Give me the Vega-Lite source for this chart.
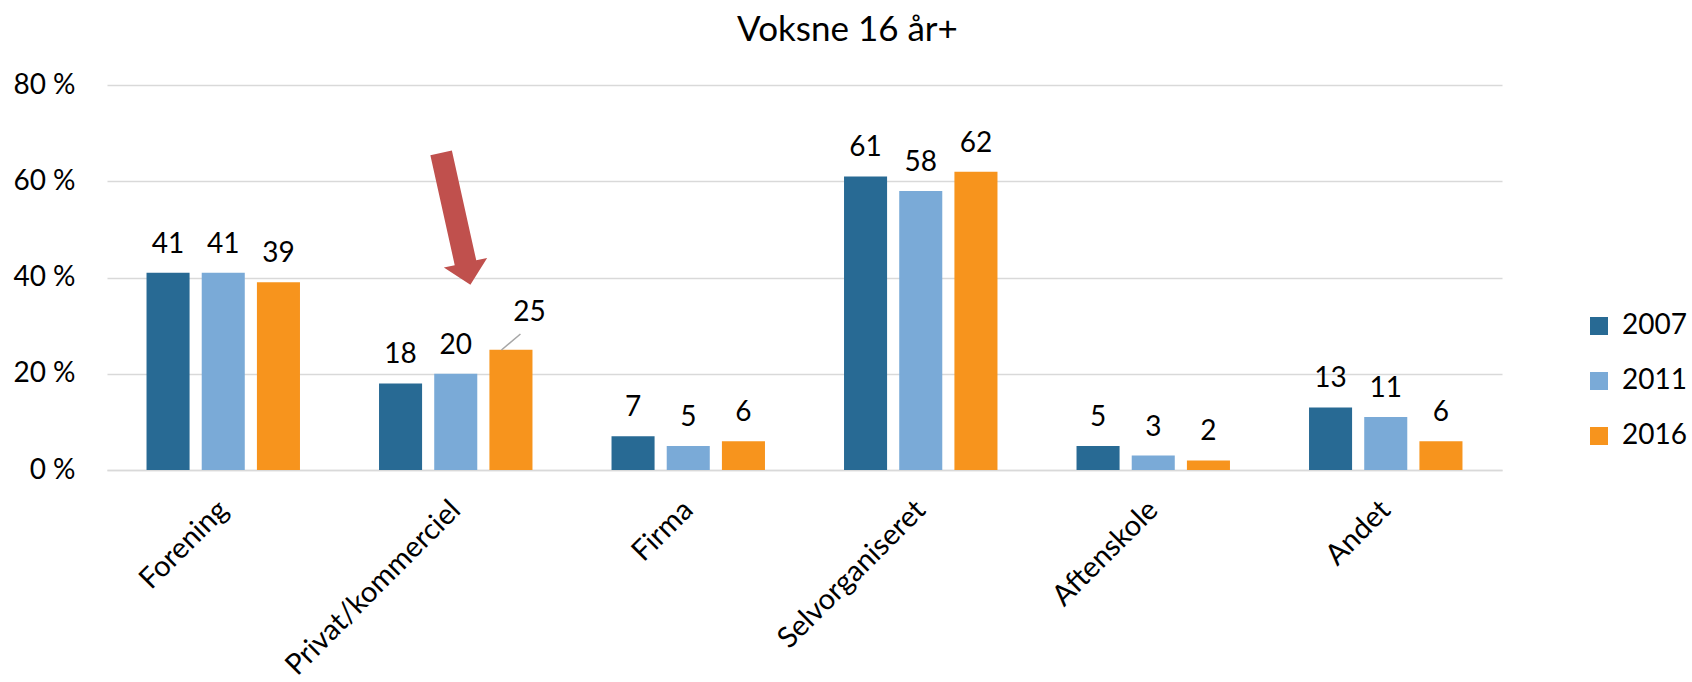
{
  "$schema": "https://vega.github.io/schema/vega-lite/v6.json",
  "width": 1395,
  "height": 385,
  "autosize": {"type": "none"},
  "padding": {"left": 107, "top": 85, "right": 190, "bottom": 212},
  "background": "white",
  "config": {
    "view": {"stroke": null},
    "font": "Lato",
    "legend": {
      "orient": "none",
      "legendX": 1478,
      "legendY": 227,
      "padding": 0,
      "symbolType": "square",
      "symbolSize": 324,
      "symbolStrokeWidth": 0,
      "symbolOpacity": 1,
      "labelFontSize": 28,
      "labelColor": "#000000",
      "labelFont": "Lato",
      "labelOffset": 9,
      "rowPadding": 27
    }
  },
  "title": {
    "text": "Voksne 16 år+",
    "font": "Lato",
    "fontSize": 35,
    "fontWeight": "normal",
    "color": "#000000",
    "anchor": "middle",
    "frame": "group",
    "dx": 43,
    "baseline": "alphabetic",
    "offset": -5
  },
  "datasets": {
    "main": [
      {"cat": "Forening", "year": "2007", "value": 41},
      {"cat": "Forening", "year": "2011", "value": 41},
      {"cat": "Forening", "year": "2016", "value": 39},
      {"cat": "Privat/kommerciel", "year": "2007", "value": 18},
      {"cat": "Privat/kommerciel", "year": "2011", "value": 20},
      {"cat": "Privat/kommerciel", "year": "2016", "value": 25},
      {"cat": "Firma", "year": "2007", "value": 7},
      {"cat": "Firma", "year": "2011", "value": 5},
      {"cat": "Firma", "year": "2016", "value": 6},
      {"cat": "Selvorganiseret", "year": "2007", "value": 61},
      {"cat": "Selvorganiseret", "year": "2011", "value": 58},
      {"cat": "Selvorganiseret", "year": "2016", "value": 62},
      {"cat": "Aftenskole", "year": "2007", "value": 5},
      {"cat": "Aftenskole", "year": "2011", "value": 3},
      {"cat": "Aftenskole", "year": "2016", "value": 2},
      {"cat": "Andet", "year": "2007", "value": 13},
      {"cat": "Andet", "year": "2011", "value": 11},
      {"cat": "Andet", "year": "2016", "value": 6}
    ],
    "leader": [
      {"cat": "Privat/kommerciel", "year": "2016", "value": 26.6}
    ],
    "arrow": [
      {"cat": "Privat/kommerciel", "value": 52.2}
    ]
  },
  "layer": [
    {
      "data": {"name": "main"},
      "mark": {"type": "bar"},
      "encoding": {
        "x": {
          "field": "cat",
          "type": "nominal",
          "sort": null,
          "scale": {
            "domain": ["Forening", "Privat/kommerciel", "Firma", "Selvorganiseret", "Aftenskole", "Andet"],
            "paddingInner": 0.34,
            "paddingOuter": 0.17
          },
          "axis": {
            "title": null,
            "labelAngle": -45,
            "labelAlign": "right",
            "labelBaseline": "middle",
            "labelFontSize": 29,
            "labelColor": "#000000",
            "labelPadding": 35,
            "labelLimit": 0,
            "ticks": false,
            "domain": true,
            "domainColor": "#d9d9d9",
            "domainWidth": 1.5,
            "grid": false
          }
        },
        "xOffset": {
          "field": "year",
          "type": "nominal",
          "scale": {"domain": ["2007", "2011", "2016"], "paddingInner": 0.22, "paddingOuter": 0}
        },
        "y": {
          "field": "value",
          "type": "quantitative",
          "scale": {"domain": [0, 80], "nice": false},
          "axis": {
            "title": null,
            "values": [0, 20, 40, 60, 80],
            "labelExpr": "datum.value + ' %'",
            "labelFontSize": 28,
            "labelColor": "#000000",
            "labelPadding": 32,
            "ticks": false,
            "domain": false,
            "grid": true,
            "gridColor": "#d9d9d9",
            "gridWidth": 1.5
          }
        },
        "color": {
          "field": "year",
          "type": "nominal",
          "scale": {"domain": ["2007", "2011", "2016"], "range": ["#286A94", "#7AAAD7", "#F7941D"]},
          "legend": {"title": null}
        }
      }
    },
    {
      "data": {"name": "main"},
      "transform": [{"filter": "!(datum.cat == 'Privat/kommerciel' && datum.year == '2016')"}],
      "mark": {"type": "text", "baseline": "alphabetic", "dy": -20, "fontSize": 28, "color": "#000000"},
      "encoding": {
        "x": {"field": "cat", "type": "nominal", "sort": null},
        "xOffset": {"field": "year", "type": "nominal"},
        "y": {"field": "value", "type": "quantitative"},
        "text": {"field": "value", "type": "quantitative"}
      }
    },
    {
      "data": {"name": "main"},
      "transform": [{"filter": "datum.cat == 'Privat/kommerciel' && datum.year == '2016'"}],
      "mark": {"type": "text", "baseline": "alphabetic", "dx": 18.5, "dy": -29, "fontSize": 28, "color": "#000000"},
      "encoding": {
        "x": {"field": "cat", "type": "nominal", "sort": null},
        "xOffset": {"field": "year", "type": "nominal"},
        "y": {"field": "value", "type": "quantitative"},
        "text": {"field": "value", "type": "quantitative"}
      }
    },
    {
      "data": {"name": "leader"},
      "mark": {"type": "point", "shape": "M -1 0.84 L 1 -0.84", "size": 361, "filled": false, "stroke": "#a6a6a6", "strokeWidth": 1.5, "opacity": 1, "xOffset": 9.5},
      "encoding": {
        "x": {"field": "cat", "type": "nominal", "sort": null},
        "xOffset": {"field": "year", "type": "nominal"},
        "y": {"field": "value", "type": "quantitative"}
      }
    },
    {
      "data": {"name": "arrow"},
      "mark": {"type": "point", "shape": "M -0.163 -1 L 0.163 -1 L 0.163 0.666 L 0.328 0.666 L 0 1 L -0.328 0.666 L -0.163 0.666 Z", "size": 18279, "filled": true, "fill": "#C0504D", "strokeWidth": 0, "opacity": 1, "angle": 347.5},
      "encoding": {
        "x": {"field": "cat", "type": "nominal", "sort": null},
        "y": {"field": "value", "type": "quantitative"}
      }
    }
  ]
}
